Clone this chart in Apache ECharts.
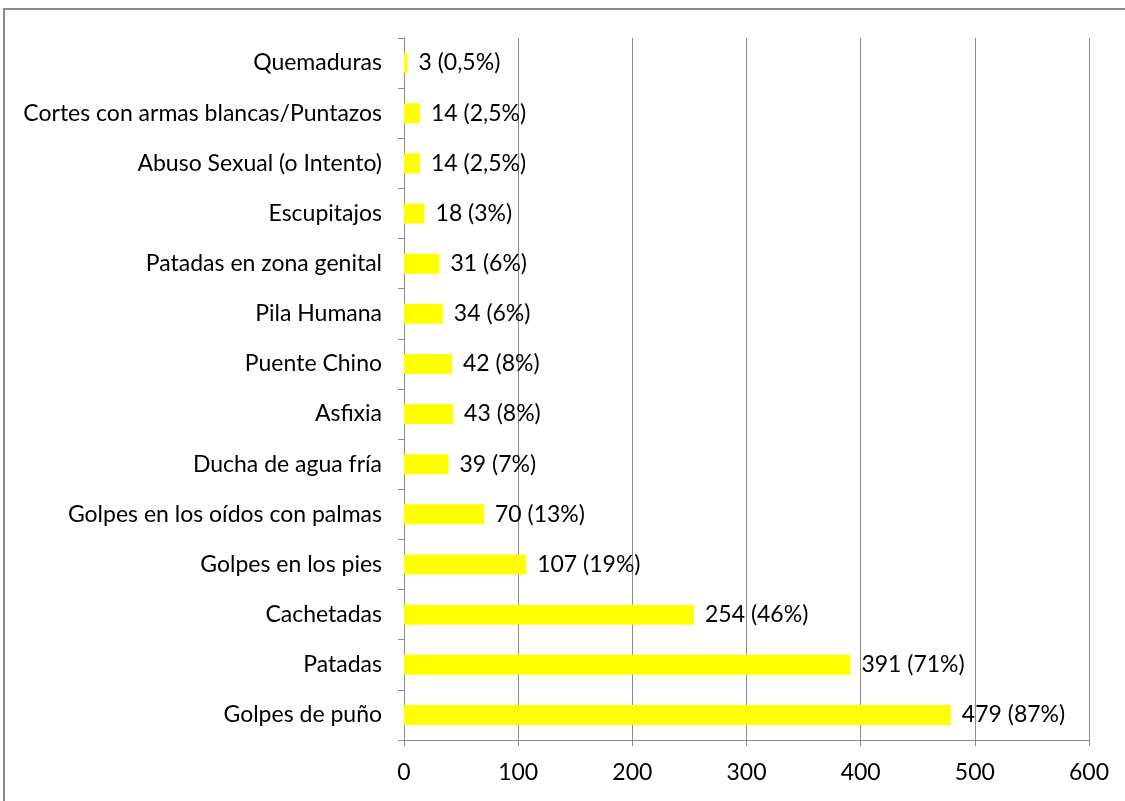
<!DOCTYPE html>
<html>
<head>
<meta charset="utf-8">
<script src="https://cdn.jsdelivr.net/npm/echarts@6/dist/echarts.min.js"></script>
<style>
    html, body { margin: 0; padding: 0; background: #fff; }
    #chart { width: 1125px; height: 801px; }
</style>
</head>
<body>
<div id="chart"></div>
<script>
/* categorías, de arriba hacia abajo */
var categorias = ['Quemaduras', 'Cortes con armas blancas/Puntazos', 'Abuso Sexual (o Intento)',
    'Escupitajos', 'Patadas en zona genital', 'Pila Humana', 'Puente Chino', 'Asfixia',
    'Ducha de agua fría', 'Golpes en los oídos con palmas', 'Golpes en los pies',
    'Cachetadas', 'Patadas', 'Golpes de puño'];
var valores = [3, 14, 14, 18, 31, 34, 42, 43, 39, 70, 107, 254, 391, 479];
var porcentajes = ['0,5%', '2,5%', '2,5%', '3%', '6%', '6%', '8%', '8%', '7%', '13%', '19%', '46%', '71%', '87%'];
var ejeX = { min: 0, max: 600, interval: 100 };

var fuente = 'Lato, "Open Sans", sans-serif';
var gris = '#8c8c8c';

var myChart = echarts.init(document.getElementById('chart'));
var options = {
    animation: false,
    graphic: [{
        type: 'rect',
        shape: { x: 4, y: 9, width: 1140, height: 820 },
        style: { fill: 'none', stroke: gris, lineWidth: 2 }
    }],
    grid: { left: 404, right: 36, top: 38, bottom: 61 },
    xAxis: {
        type: 'value',
        min: ejeX.min,
        max: ejeX.max,
        interval: ejeX.interval,
        axisLine: { show: true, lineStyle: { color: gris, width: 1 } },
        axisTick: { show: true, length: 6, lineStyle: { color: gris } },
        axisLabel: { color: '#000', fontSize: 23, fontFamily: fuente, margin: 21 },
        splitLine: { show: true, lineStyle: { color: gris, width: 1 } }
    },
    yAxis: {
        type: 'category',
        inverse: true,
        data: categorias,
        axisLine: { show: true, lineStyle: { color: gris, width: 1 } },
        axisTick: { show: true, length: 6, lineStyle: { color: gris } },
        axisLabel: { color: '#000', fontSize: 23, fontFamily: fuente, margin: 22 }
    },
    series: [{
        type: 'bar',
        data: valores,
        barWidth: 20,
        itemStyle: { color: '#ffff00' },
        label: {
            show: true,
            position: 'right',
            distance: 11,
            color: '#000',
            fontSize: 23,
            fontFamily: fuente,
            formatter: function (p) {
                return p.value + ' (' + porcentajes[p.dataIndex] + ')';
            }
        }
    }]
};
myChart.setOption(options);
</script>
</body>
</html>
